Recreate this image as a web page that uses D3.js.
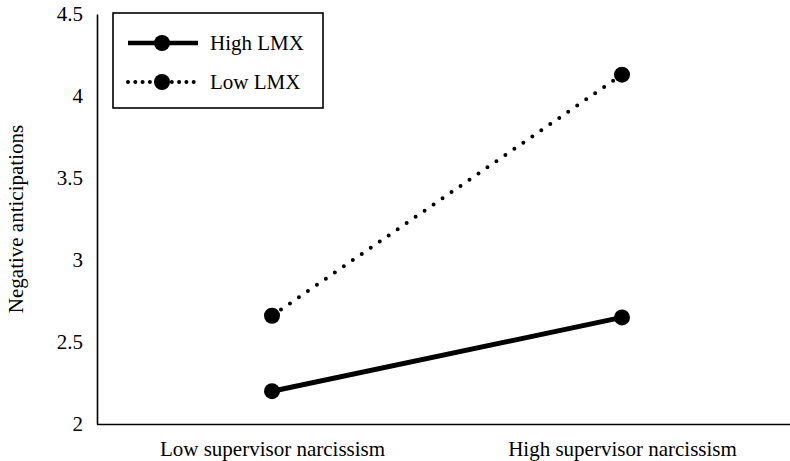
<!DOCTYPE html>
<html>
<head>
<meta charset="utf-8">
<script src="https://cdn.jsdelivr.net/npm/d3@7"></script>
<style>
  html, body { margin: 0; padding: 0; background: #fff; }
  svg { display: block; }
  text { font-family: "Liberation Serif", "Times New Roman", serif; fill: #000; }
</style>
</head>
<body>
<svg id="chart" width="790" height="461"></svg>
<script>
const categories = ["Low supervisor narcissism", "High supervisor narcissism"];
const seriesNames = ["High LMX", "Low LMX"];
const highLMX = [2.20, 2.65];
const lowLMX = [2.66, 4.13];
const yTicks = [2, 2.5, 3, 3.5, 4, 4.5];
const yLabel = "Negative anticipations";

(function () {
const svg = d3.select("#chart");
const W = 790;
const mLeft = 97, mTop = 14, mBottom = 424, mRight = 797;
const fontSize = 21;

const x = d3.scalePoint().domain(categories).range([mLeft, mRight]).padding(0.5);
const y = d3.scaleLinear().domain([2, 4.5]).range([mBottom, mTop]);

// Y axis
const yAxis = svg.append("g").attr("transform", `translate(${mLeft},0)`)
  .call(d3.axisLeft(y).tickValues(yTicks).tickSize(0).tickPadding(14)
    .tickFormat(d => String(d)));
yAxis.select(".domain").attr("stroke", "#000").attr("stroke-width", 1.6);
yAxis.selectAll("text").style("font-size", fontSize + "px")
  .style("font-family", '"Liberation Serif", serif').attr("fill", "#000");

// X axis
const xAxis = svg.append("g").attr("transform", `translate(0,${mBottom})`)
  .call(d3.axisBottom(x).tickSize(0).tickPadding(17));
xAxis.select(".domain").attr("stroke", "#000").attr("stroke-width", 1.6)
  .attr("d", `M${mLeft},0.5H${W + 10}`);
xAxis.selectAll("text").style("font-size", fontSize + "px")
  .style("font-family", '"Liberation Serif", serif').attr("fill", "#000");

// Y label
svg.append("text")
  .attr("transform", `translate(23,${(mTop + mBottom) / 2}) rotate(-90)`)
  .attr("text-anchor", "middle")
  .style("font-size", fontSize + "px")
  .text(yLabel);

const line = d3.line().x((d, i) => x(categories[i])).y(d => y(d));

const series = [
  { name: seriesNames[0], values: highLMX, dash: null },
  { name: seriesNames[1], values: lowLMX, dash: "0 10.9" }
];

series.forEach(s => {
  const p = svg.append("path")
    .datum(s.values)
    .attr("d", line)
    .attr("fill", "none")
    .attr("stroke", "#000");
  if (s.dash) {
    p.attr("stroke-width", 4).attr("stroke-linecap", "round").attr("stroke-dasharray", s.dash);
  } else {
    p.attr("stroke-width", 5);
  }
  svg.selectAll(null).data(s.values).enter().append("circle")
    .attr("cx", (d, i) => x(categories[i]))
    .attr("cy", d => y(d))
    .attr("r", 8)
    .attr("fill", "#000");
});

// Legend
const lg = svg.append("g");
lg.append("rect").attr("x", 113).attr("y", 13).attr("width", 210).attr("height", 95)
  .attr("fill", "#fff").attr("stroke", "#000").attr("stroke-width", 1.6);
const legendY = [43, 82];
series.forEach((s, i) => {
  const ly = legendY[i];
  const l = lg.append("line").attr("x1", 128).attr("x2", 198).attr("y1", ly).attr("y2", ly)
    .attr("stroke", "#000");
  if (s.dash) {
    l.attr("stroke-width", 4).attr("stroke-linecap", "round").attr("stroke-dasharray", "0 7.3");
  } else {
    l.attr("stroke-width", 4.5);
  }
  lg.append("circle").attr("cx", 162).attr("cy", ly).attr("r", 8).attr("fill", "#000");
  lg.append("text").attr("x", 210).attr("y", ly).attr("dy", "0.35em")
    .style("font-size", fontSize + "px").text(s.name);
});
})();
</script>
</body>
</html>
